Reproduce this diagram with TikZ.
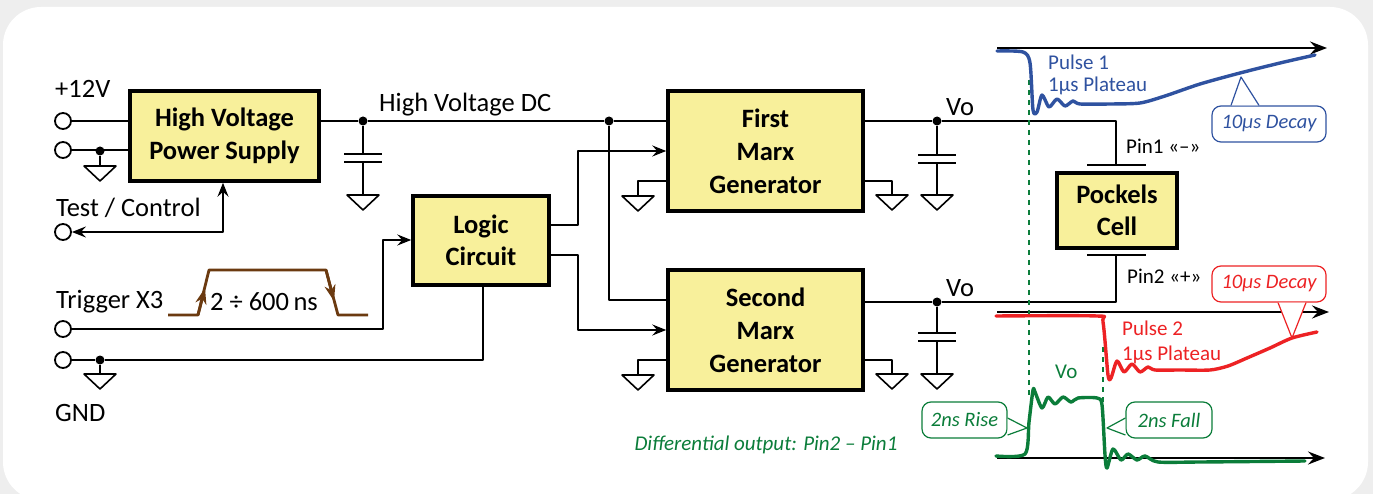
\documentclass[tikz,border=0pt]{standalone}
\usepackage{fontspec}
\setmainfont{Carlito}
\usetikzlibrary{arrows.meta}
\definecolor{bgray}{HTML}{EEEEEE}
\definecolor{boxy}{HTML}{F8F09B}
\definecolor{pblue}{HTML}{2F52A0}
\definecolor{pred}{HTML}{ED2224}
\definecolor{pgreen}{HTML}{0B7D3A}
\definecolor{pbrown}{HTML}{6B3A10}
\tikzset{
  wire/.style={line width=2pt,line join=round},
  thinwire/.style={line width=1.6pt,line join=round},
  flow/.style={wire,-{Stealth[length=14pt,width=11pt,inset=5pt]}},
  axisline/.style={line width=2.6pt,-{Stealth[length=17pt,width=13pt,inset=6pt]}},
  blockbox/.style={draw,line width=3.5pt,fill=boxy,align=center,inner sep=0pt,font=\fontsize{26.5}{33}\selectfont\bfseries},
  tightbox/.style={blockbox,font=\fontsize{26.5}{31.5}\selectfont\bfseries},
  term/.style={draw,circle,line width=1.8pt,fill=white,minimum size=16pt,inner sep=0pt},
  jdot/.style={fill,circle,minimum size=9pt,inner sep=0pt},
  lbl/.style={font=\fontsize{26.5}{30}\selectfont,anchor=west,inner sep=0pt},
  small/.style={font=\fontsize{21}{24}\selectfont,anchor=west,inner sep=0pt},
  pulse/.style={line width=3.4pt,line join=round,line cap=round},
  guide/.style={pgreen,line width=1.2pt,dash pattern=on 5pt off 5pt},
  note/.style={draw,line width=1.2pt,fill=white,rounded corners=9pt,inner sep=0pt,
    minimum width=#1,minimum height=36pt,font=\fontsize{20.5}{24}\selectfont\itshape},
}
\newcommand{\Gnd}[2]{\coordinate (#1) at (#2);
  \draw[thinwire] (#1) ++(-16,0) -- ++(32,0) -- ++(-16,15) -- cycle;}
\newcommand{\Capac}[2]{\coordinate (#1a) at (#2); \coordinate (#1b) at ([yshift=-8pt]#1a);
  \draw[wire] (#1a) ++(-19,0) -- ++(38,0);
  \draw[wire] (#1b) ++(-19,0) -- ++(38,0);}
\newcommand{\Tip}[4]{\fill[white] #2 -- #3 -- #4 -- cycle;
  \draw[#1,line width=1.2pt,line join=round] #2 -- #3 -- #4;}

\begin{document}
\begin{tikzpicture}[x=1pt,y=-1pt]
  \useasboundingbox (0,0) rectangle (1373,494);
  \fill[bgray] (0,0) rectangle (1373,494);
  \fill[white,rounded corners=38pt] (3,7) rectangle (1368,500);

  % blocks
  \node[blockbox,minimum width=189pt,minimum height=90pt] (psu) at (224.5,136) {High Voltage\\Power Supply};
  \node[tightbox,minimum width=136pt,minimum height=89pt] (logic) at (481,240.5) {Logic\\Circuit};
  \node[blockbox,minimum width=195pt,minimum height=120pt] (marxA) at (765.5,151) {First\\Marx\\Generator};
  \node[blockbox,minimum width=195pt,minimum height=120pt] (marxB) at (765.5,330) {Second\\Marx\\Generator};
  \node[tightbox,minimum width=120pt,minimum height=75pt] (cell) at (1117,210.5) {Pockels\\Cell};

  % terminals and junctions
  \node[term] (tPlus) at (63,121) {};
  \node[term] (tRet) at (63,150) {};
  \node[term] (tTest) at (63,232) {};
  \node[term] (tTrig) at (63,329) {};
  \node[term] (tGnd) at (63,360) {};
  \node[jdot] (jRet) at (100,151) {};
  \node[jdot] (jHv) at (363,121) {};
  \node[jdot] (jMarx) at (609,121) {};
  \node[jdot] (jOutA) at (937,121) {};
  \node[jdot] (jOutB) at (937,302) {};
  \node[jdot] (jGnd) at (100,360) {};

  % grounds and capacitors
  \Gnd{gRet}{100,166}
  \Gnd{gGnd}{100,374}
  \Gnd{gHv}{363,195}
  \Gnd{gAl}{638,196}
  \Gnd{gAr}{892,195}
  \Gnd{gAc}{937,195}
  \Gnd{gBl}{638,375}
  \Gnd{gBr}{892,374}
  \Gnd{gBc}{937,374}
  \Capac{cHv}{363,154}
  \Capac{cA}{937,155}
  \Capac{cB}{937,333}

  % wiring
  \draw[thinwire] (tPlus) -- (tPlus -| psu.west);
  \draw[thinwire] (tRet) -- (tRet -| psu.west);
  \draw[thinwire] (jRet) -- (gRet);
  \draw[flow,{Stealth[length=14pt,width=11pt,inset=5pt]}-{Stealth[length=14pt,width=11pt,inset=5pt]}] (tTest) -| (psu.south -| 223,0);
  \draw[wire] (jHv -| psu.east) -- (jHv) -- (jMarx) -- (jMarx -| marxA.west);
  \draw[thinwire] (jHv) -- (cHva);
  \draw[thinwire] (cHvb) -- (gHv);
  \draw[wire] (jMarx) |- (marxB.west |- 0,300);
  \draw[flow] (logic.east |- 0,225) -- (578,225) |- (marxA.west |- 0,151);
  \draw[flow] (logic.east |- 0,255) -- (578,255) |- (marxB.west |- 0,330);
  \draw[flow] (tTrig) -| (383,240) -- (logic.west |- 0,240);
  \draw[wire] (tGnd) -- (jGnd) -| (logic.south -| 483,0);
  \draw[thinwire] (jGnd) -- (gGnd);
  \draw[wire] (marxA.west |- 0,181) -| (gAl);
  \draw[wire] (marxA.east |- 0,181) -| (gAr);
  \draw[wire] (marxB.west |- 0,360) -| (gBl);
  \draw[wire] (marxB.east |- 0,360) -| (gBr);
  \draw[thinwire] (jOutA) -- (cAa);
  \draw[thinwire] (cAb) -- (gAc);
  \draw[thinwire] (jOutB) -- (cBa);
  \draw[thinwire] (cBb) -- (gBc);
  \coordinate (pinA) at (1116,165);
  \coordinate (pinB) at (1116,255);
  \draw[wire] (pinA) ++(-29,0) -- ++(59,0);
  \draw[wire] (pinB) ++(-29,0) -- ++(59,0);
  \draw[wire] (marxA.east |- jOutA) -- (jOutA) -| (pinA);
  \draw[wire] (marxB.east |- jOutB) -- (jOutB) -| (pinB);

  % trigger pulse
  \draw[pbrown,line width=2.8pt,line join=round] (168,315) -- (198,315) -- (209,270) -- (326,270) -- (338,315) -- (368,315);
  \draw[pbrown,line width=2.8pt,-{Stealth[length=16pt,width=11pt,inset=5pt]}] (198,315) -- (205,288);
  \draw[pbrown,line width=2.8pt,-{Stealth[length=16pt,width=11pt,inset=5pt]}] (326,270) -- (334,301);

  % labels
  \node[lbl] (lPlus) at (55,89) {+12V};
  \node[lbl] (lTest) at (56,208) {Test / Control};
  \node[lbl] (lTrig) at (56,302) {Trigger X3};
  \node[lbl] (lGnd) at (55,413) {GND};
  \node[lbl] (lHv) at (379,105) {High Voltage DC};
  \node[lbl] (lPw) at (210,302) {2 ÷ 600\,ns};
  \node[lbl] (lVoA) at (946,107) {Vo};
  \node[lbl] (lVoB) at (946,288) {Vo};
  \node[small] (lPinA) at (1126,146) {Pin1 «–»};
  \node[small] (lPinB) at (1127,276) {Pin2 «+»};

  % time axes
  \coordinate (axA) at (997,48);
  \coordinate (axB) at (997,312);
  \coordinate (axC) at (997,458);
  \draw[axisline] (axA) -- ++(330,0);
  \draw[axisline] (axB) -- ++(332,0);
  \draw[axisline] (axC) -- ++(328,0);

  % waveforms
  \draw[guide] (1029,80) -- (1029,398);
  \draw[guide] (1103,347) -- (1103,408);
  \draw[pulse,pblue] plot[smooth,tension=0.45] coordinates {(997,51) (1023,52) (1030,63) (1033,110) (1037,112) (1042,95) (1049,107) (1057,99) (1065,106) (1073,101) (1080,104) (1110,104) (1140,103) (1165,96) (1200,84) (1240,73) (1280,63) (1315,55)};
  \draw[pulse,pred] plot[smooth,tension=0.45] coordinates {(996,316) (1097,316) (1103,322) (1108,375) (1111,378) (1117,361) (1124,372) (1132,364) (1140,372) (1148,367) (1155,370) (1180,370) (1210,370) (1228,366) (1247,358) (1270,348) (1292,338) (1317,332)};
  \draw[pulse,pgreen] plot[smooth,tension=0.45] coordinates {(996,456) (1025,454) (1029,422) (1033,390) (1035,392) (1042,408) (1048,397) (1055,404) (1063,397) (1071,402) (1078,398) (1097,398) (1102,405) (1105,455) (1107,468) (1113,449) (1121,460) (1128,454) (1137,460) (1145,456) (1158,462) (1200,462) (1305,461)};

  \node[small,pblue] (lPa) at (1048,62) {Pulse 1};
  \node[small,pblue] (lPb) at (1048,86) {1µs Plateau};
  \node[small,pred] (lRa) at (1122,328) {Pulse 2};
  \node[small,pred] (lRb) at (1122,355) {1µs Plateau};
  \node[small,pgreen] (lVo) at (1055,372) {Vo};
  \node[pgreen,inner sep=0pt,font=\fontsize{21}{24}\selectfont\itshape] (lDiff) at (766,445) {Differential output: Pin2 – Pin1};

  % callouts
  \node[note=114pt,draw=pblue,text=pblue] (nBlue) at (1269,124) {10µs Decay};
  \node[note=114pt,draw=pred,text=pred] (nRed) at (1269,284) {10µs Decay};
  \node[note=85pt,draw=pgreen,text=pgreen] (nRise) at (964.5,420) {2ns Rise};
  \node[note=86pt,draw=pgreen,text=pgreen] (nFall) at (1169,420) {2ns Fall};
  \Tip{pblue}{(nBlue.north -| 1231,0)}{(1241,77)}{(nBlue.north -| 1259,0)}
  \Tip{pred}{(nRed.south -| 1278,0)}{(1292,338)}{(nRed.south -| 1306,0)}
  \Tip{pgreen}{(nRise.east |- 0,418)}{(1027,428)}{(nRise.east |- 0,435)}
  \Tip{pgreen}{(nFall.west |- 0,418)}{(1107,428)}{(nFall.west |- 0,435)}
\end{tikzpicture}
\end{document}
